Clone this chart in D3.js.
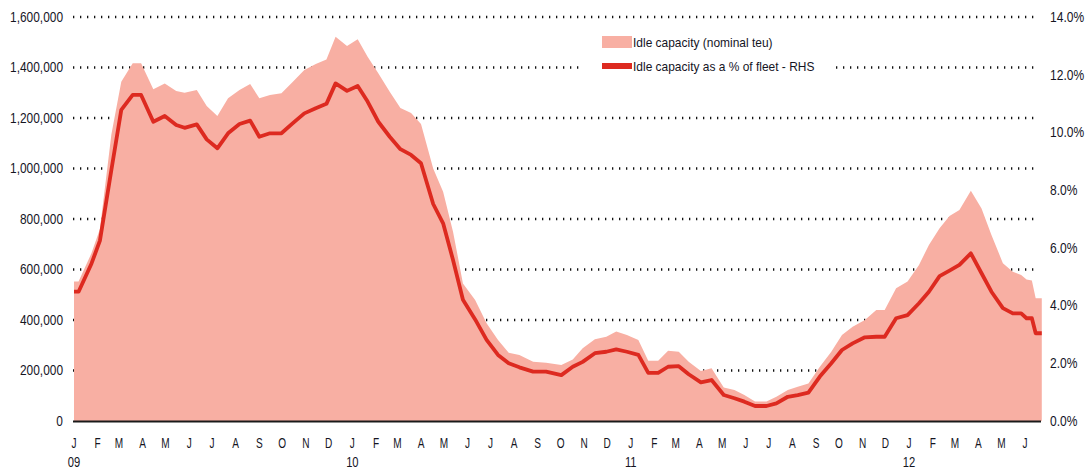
<!DOCTYPE html>
<html>
<head>
<meta charset="utf-8">
<script src="https://cdn.jsdelivr.net/npm/d3@7"></script>
<style>
body { margin: 0; background: #fff; }
text { font-family: "Liberation Sans", Arial, sans-serif; fill: #15151f; }
</style>
</head>
<body>
<div id="chart"></div>
<script>
/*-------------------- Data -------------------*/

var dates = [
    "2009-01-01", "2009-01-07", "2009-01-24", "2009-02-04", "2009-02-19", "2009-03-04", "2009-03-19", "2009-03-30",
    "2009-04-15", "2009-04-30", "2009-05-15", "2009-05-26", "2009-06-11", "2009-06-24", "2009-07-08", "2009-07-22",
    "2009-08-06", "2009-08-20", "2009-09-01", "2009-09-15", "2009-09-30", "2009-10-15", "2009-10-30", "2009-11-14",
    "2009-11-28", "2009-12-10", "2009-12-25", "2010-01-08", "2010-01-21", "2010-02-04", "2010-02-19", "2010-03-05",
    "2010-03-19", "2010-04-01", "2010-04-17", "2010-04-30", "2010-05-13", "2010-05-26", "2010-06-11", "2010-06-26",
    "2010-07-11", "2010-07-25", "2010-08-08", "2010-08-26", "2010-09-12", "2010-10-02", "2010-10-17", "2010-10-30",
    "2010-11-15", "2010-11-30", "2010-12-13", "2010-12-27", "2011-01-11", "2011-01-24", "2011-02-06", "2011-02-19",
    "2011-03-05", "2011-03-18", "2011-04-03", "2011-04-17", "2011-05-03", "2011-05-17", "2011-05-30", "2011-06-13",
    "2011-06-28", "2011-07-11", "2011-07-26", "2011-08-08", "2011-08-22", "2011-09-06", "2011-09-21", "2011-10-05",
    "2011-10-19", "2011-11-04", "2011-11-19", "2011-11-30", "2011-12-15", "2011-12-30", "2012-01-14", "2012-01-27",
    "2012-02-10", "2012-02-23", "2012-03-07", "2012-03-22", "2012-04-05", "2012-04-18", "2012-05-03", "2012-05-16",
    "2012-05-27", "2012-06-03", "2012-06-10", "2012-06-15", "2012-06-23"
];

// idle capacity, nominal teu (LHS)
var idleTeu = [
    552000, 552000, 665000, 760000, 1135000, 1344000, 1417000, 1417000,
    1314000, 1337000, 1307000, 1300000, 1311000, 1248000, 1208000, 1278000,
    1311000, 1335000, 1278000, 1291000, 1298000, 1344000, 1390000, 1414000,
    1432000, 1522000, 1485000, 1512000, 1443000, 1377000, 1304000, 1240000,
    1220000, 1176000, 1000000, 908000, 750000, 545000, 479000, 387000,
    321000, 270000, 261000, 235000, 231000, 222000, 244000, 288000,
    324000, 334000, 354000, 341000, 321000, 239000, 239000, 278000,
    274000, 235000, 198000, 209000, 133000, 123000, 103000, 77000,
    77000, 96000, 123000, 136000, 149000, 215000, 274000, 341000,
    373000, 400000, 440000, 440000, 526000, 552000, 618000, 697000,
    763000, 812000, 836000, 912000, 842000, 737000, 625000, 591000,
    578000, 560000, 556000, 486000, 486000
];

// idle capacity as a % of fleet (RHS)
var idlePct = [
    4.48, 4.48, 5.46, 6.25, 8.70, 10.78, 11.30, 11.30,
    10.37, 10.57, 10.26, 10.16, 10.28, 9.76, 9.45, 9.97,
    10.29, 10.41, 9.85, 9.97, 9.97, 10.32, 10.66, 10.84,
    10.99, 11.70, 11.44, 11.61, 11.07, 10.37, 9.85, 9.42,
    9.22, 8.93, 7.52, 6.85, 5.58, 4.20, 3.52, 2.81,
    2.29, 2.00, 1.86, 1.71, 1.71, 1.59, 1.88, 2.05,
    2.35, 2.40, 2.48, 2.40, 2.29, 1.67, 1.67, 1.88,
    1.90, 1.62, 1.34, 1.42, 0.90, 0.79, 0.67, 0.52,
    0.52, 0.61, 0.84, 0.90, 0.98, 1.54, 2.00, 2.46,
    2.69, 2.90, 2.92, 2.92, 3.56, 3.67, 4.08, 4.48,
    5.02, 5.21, 5.41, 5.81, 5.12, 4.48, 3.91, 3.73,
    3.73, 3.56, 3.56, 3.04, 3.04
];

var leftTicks = [0, 200000, 400000, 600000, 800000, 1000000, 1200000, 1400000, 1600000];
var rightTicks = [0, 2, 4, 6, 8, 10, 12, 14];
var monthLetters = ["J", "F", "M", "A", "M", "J", "J", "A", "S", "O", "N", "D"];
var yearLabels = ["09", "10", "11", "12"];
var legendLabels = ["Idle capacity (nominal teu)", "Idle capacity as a % of fleet - RHS"];

/*-------------------- Chart -------------------*/

var width = 1089, height = 475;
var plot = {left: 73, right: 1041, top: 17, bottom: 421};
var areaColor = "#f8afa3", lineColor = "#dd2a20";

var parseDate = d3.timeParse("%Y-%m-%d");
var data = dates.map((d, i) => ({date: parseDate(d), teu: idleTeu[i], pct: idlePct[i]}));

var svg = d3.select("#chart").append("svg")
    .attr("width", width)
    .attr("height", height);

var xScale = d3.scaleTime()
    .domain([new Date(2009, 0, 1), new Date(2012, 5, 1)])
    .range([74, 1025]);
var yLeft = d3.scaleLinear().domain([0, 1600000]).range([plot.bottom, plot.top]);
var yRight = d3.scaleLinear().domain([0, 14]).range([plot.bottom, plot.top]);

// the original text is a narrow face, so squeeze it horizontally
function squeeze(sel, x, y, sx) {
    sel.attr("transform", (d, i) => "translate(" + x(d, i) + "," + y(d, i) + ") scale(" + sx + ",1)");
}

// dotted gridlines on the left axis ticks
svg.append("g").selectAll("line")
    .data(leftTicks.filter(d => d > 0))
    .enter()
    .append("line")
    .attr("x1", plot.left)
    .attr("x2", 1037)
    .attr("y1", d => yLeft(d))
    .attr("y2", d => yLeft(d))
    .attr("stroke", "#111")
    .attr("stroke-width", 2.6)
    .attr("stroke-dasharray", "1.3,5.7");

// area: idle teu
svg.append("path")
    .datum(data)
    .attr("fill", areaColor)
    .attr("d", d3.area()
        .x(d => xScale(d.date))
        .y0(yLeft(0))
        .y1(d => yLeft(d.teu)));

// line: % of fleet
svg.append("path")
    .datum(data)
    .attr("fill", "none")
    .attr("stroke", lineColor)
    .attr("stroke-width", 3.8)
    .attr("stroke-linejoin", "round")
    .attr("d", d3.line()
        .x(d => xScale(d.date))
        .y(d => yRight(d.pct)));

// baseline
svg.append("line")
    .attr("x1", plot.left).attr("x2", plot.right)
    .attr("y1", plot.bottom + 0.5).attr("y2", plot.bottom + 0.5)
    .attr("stroke", "#1a1a1a")
    .attr("stroke-width", 2);

// left axis labels
svg.append("g").selectAll("text")
    .data(leftTicks)
    .enter()
    .append("text")
    .attr("dy", "0.35em")
    .attr("text-anchor", "end")
    .style("font-size", "14px")
    .text(d => d3.format(",")(d))
    .call(squeeze, () => 63, d => yLeft(d), 0.85);

// right axis labels
svg.append("g").selectAll("text")
    .data(rightTicks)
    .enter()
    .append("text")
    .attr("dy", "0.35em")
    .style("font-size", "14px")
    .text(d => d3.format(".1f")(d) + "%")
    .call(squeeze, () => 1050, d => yRight(d), 0.86);

// month labels
var months = d3.timeMonth.range(new Date(2009, 0, 1), new Date(2012, 6, 1));
svg.append("g").selectAll("text")
    .data(months)
    .enter()
    .append("text")
    .attr("text-anchor", "middle")
    .style("font-size", "14px")
    .text(d => monthLetters[d.getMonth()])
    .call(squeeze, d => xScale(d), () => 448, 0.72);

// year labels under each January
svg.append("g").selectAll("text")
    .data(yearLabels)
    .enter()
    .append("text")
    .attr("text-anchor", "middle")
    .style("font-size", "14px")
    .text(d => d)
    .call(squeeze, d => xScale(new Date(2000 + +d, 0, 1)), () => 467, 0.8);

// legend
var legend = svg.append("g");
legend.append("rect")
    .attr("x", 584).attr("y", 25)
    .attr("width", 250).attr("height", 55)
    .attr("fill", "#fff");
legend.append("rect")
    .attr("x", 602).attr("y", 36)
    .attr("width", 30).attr("height", 12)
    .attr("fill", areaColor);
legend.append("rect")
    .attr("x", 602).attr("y", 63)
    .attr("width", 30).attr("height", 6)
    .attr("fill", lineColor);
legend.selectAll("text.leg")
    .data(legendLabels)
    .enter()
    .append("text")
    .attr("class", "leg")
    .attr("dy", "0.35em")
    .style("font-size", "13px")
    .text(d => d)
    .call(squeeze, () => 633, (d, i) => 42 + i * 24, 0.92);
</script>
</body>
</html>
